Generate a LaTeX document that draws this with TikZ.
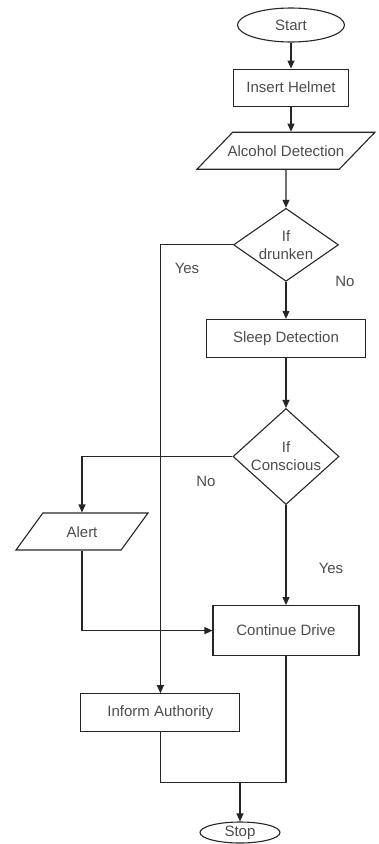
\documentclass[tikz,border=0pt]{standalone}
\usepackage{fontspec}
\setmainfont{Liberation Sans}
\usetikzlibrary{arrows.meta,positioning,shapes.geometric}

\begin{document}
\begin{tikzpicture}[x=1pt,y=-1pt,>={Triangle[length=8pt,width=7pt]},line width=1.1pt,
        color=black!85,text=black!70,font=\fontsize{15}{18}\selectfont]
        \tikzset{block/.style={draw, rectangle, align=center},
        term/.style={draw, ellipse, align=center, inner sep=0pt},
        io/.style={ % requires library shapes.geometric
        draw,
        trapezium,
        trapezium left angle=#1,
        trapezium right angle=180-#1,
        trapezium stretches body,
        text height=11pt,
        text depth=0pt,
        inner ysep=13pt,
        align=center
    },
        decision/.style={draw, diamond, inner sep=0pt},
        lbl/.style={inner sep=0pt}
        }
        \useasboundingbox (0,0) rectangle (379,844);
        \node[term, minimum width=107pt, minimum height=34pt] (start) at (291,25) {Start};
        \node[block, minimum width=115pt, minimum height=37pt, below=26pt of start] (helmet) {Insert Helmet};
        \node[io=46, inner xsep=-6pt, minimum width=178pt, below=25pt of helmet, xshift=-5pt] (alcohol) {Alcohol Detection};
        \node[decision, minimum width=105pt, minimum height=73pt, below=38pt of alcohol,
              label={[align=center]center:If\\drunken}] (drunk) {};
        \node[block, minimum width=159pt, minimum height=38pt, below=37pt of drunk] (sleep) {Sleep Detection};
        \node[decision, minimum width=106pt, minimum height=96pt, below=50pt of sleep,
              label={[align=center]center:If\\Conscious}] (conscious) {};
        \node[block, minimum width=146pt, minimum height=50pt, below=100pt of conscious] (cont) {Continue Drive};
        \node[block, minimum width=159pt, minimum height=38pt, below left=37pt and -28pt of cont] (inform) {Inform Authority};
        \node[io=54, minimum width=132pt] (alert) at (82,531.5) {Alert};
        \node[term, minimum width=80pt, minimum height=21pt] (stop) at (240,832.5) {Stop};
        \coordinate[above=39pt of stop] (join);

        % answers
        \node[lbl] (yes1) at ([xshift=-99pt,yshift=-24pt]drunk.center) {Yes};
        \node[lbl] (no1) at ([xshift=59pt,yshift=-37pt]drunk.center) {No};
        \node[lbl] (no2) at ([xshift=-80pt,yshift=-25pt]conscious.center) {No};
        \node[lbl] (yes2) at ([xshift=45pt,yshift=-112pt]conscious.center) {Yes};

%% paths
        \path[draw,->] (start) edge (helmet)
                    (helmet) edge (helmet |- alcohol.north)
                    (alcohol) edge (drunk)
                    (drunk) edge (sleep)
                    (sleep) edge (conscious)
                    (conscious) edge (cont);
        \draw[->] (drunk) -| (inform);
        \draw[->] (conscious) -| (alert);
        \draw[->] (alert) |- (cont);
        \draw (inform) |- (join);
        \draw (cont) |- (join);
        \draw[->] (join) -- (stop);
\end{tikzpicture}
\end{document}
